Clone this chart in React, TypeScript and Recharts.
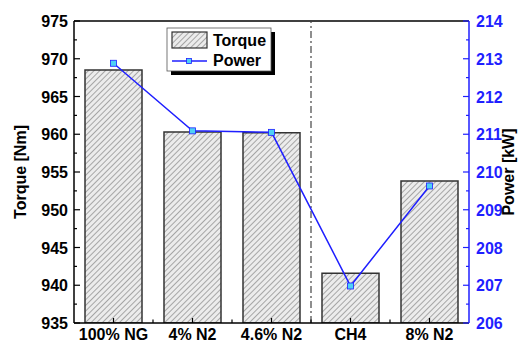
import React from "react";
import {
  Bar,
  ComposedChart,
  Line,
  ReferenceLine,
  XAxis,
  YAxis,
} from "recharts";

const categories = ["100% NG", "4% N2", "4.6% N2", "CH4", "8% N2"];
const torque = [968.5, 960.3, 960.2, 941.6, 953.8];
const power = [212.88, 211.09, 211.05, 206.98, 209.63];
const torqueTicks = [935, 937.5, 940, 942.5, 945, 947.5, 950, 952.5, 955, 957.5, 960, 962.5, 965, 967.5, 970, 972.5, 975];
const powerTicks = [206, 206.5, 207, 207.5, 208, 208.5, 209, 209.5, 210, 210.5, 211, 211.5, 212, 212.5, 213, 213.5, 214];

const data = categories.map((name, i) => ({ name, torque: torque[i], power: power[i] }));

const FONT = "'Liberation Sans', Arial, sans-serif";
const BLUE = "#1f1fff";
const MARGIN = 6;

function LeftTick(props: any) {
  const { x, y, payload } = props;
  const v = payload.value;
  const major = v % 5 === 0;
  const ax = x + MARGIN;
  return (
    <g>
      <line x1={ax} x2={ax + (major ? 6 : 3)} y1={y} y2={y} stroke="#000" strokeWidth={1.2} />
      {major && (
        <text x={x} y={y} dy={6} textAnchor="end" fontFamily={FONT} fontWeight="bold" fontSize={16} fill="#000">
          {v}
        </text>
      )}
    </g>
  );
}

function RightTick(props: any) {
  const { x, y, payload } = props;
  const v = payload.value;
  const major = v % 1 === 0;
  const ax = x - MARGIN;
  return (
    <g>
      <line x1={ax} x2={ax - (major ? 6 : 3)} y1={y} y2={y} stroke={BLUE} strokeWidth={1.2} />
      {major && (
        <text x={x + 1} y={y} dy={6} textAnchor="start" fontFamily={FONT} fontWeight="bold" fontSize={16} fill={BLUE}>
          {v}
        </text>
      )}
    </g>
  );
}

function BottomTick(props: any) {
  const { x, y, payload } = props;
  const ay = y - 4;
  return (
    <g>
      <line x1={x} x2={x} y1={ay} y2={ay - 5} stroke="#000" strokeWidth={1.2} />
      <text x={x} y={y} dy={13} textAnchor="middle" fontFamily={FONT} fontWeight="bold" fontSize={16} fill="#000">
        {payload.value}
      </text>
    </g>
  );
}

function LegendBox() {
  return (
    <svg width={523} height={345} style={{ position: "absolute", left: 0, top: 0, pointerEvents: "none" }}>
      <defs>
        <pattern id="hatchLegend" patternUnits="userSpaceOnUse" width={4} height={4} patternTransform="rotate(45)">
          <rect width={4} height={4} fill="#ececec" />
          <line x1={0} y1={0} x2={0} y2={4} stroke="#777" strokeWidth={1.2} />
        </pattern>
      </defs>
      <rect x={171} y={32} width={104} height={43} fill="#000" />
      <rect x={167} y={28} width={104} height={43} fill="#fff" stroke="#555" strokeWidth={0.8} />
      <rect x={172} y={32} width={35} height={16} fill="url(#hatchLegend)" stroke="#333" strokeWidth={1.2} />
      <text x={213} y={46} fontFamily={FONT} fontWeight="bold" fontSize={16} fill="#000">Torque</text>
      <line x1={172} x2={207} y1={61} y2={61} stroke={BLUE} strokeWidth={1.5} />
      <rect x={186.5} y={58.5} width={5} height={5} fill="#4fd0f5" stroke={BLUE} strokeWidth={0.8} />
      <text x={213} y={66} fontFamily={FONT} fontWeight="bold" fontSize={16} fill="#000">Power</text>
    </svg>
  );
}

export default function App() {
  return (
    <div style={{ position: "absolute", left: 0, top: 0, width: 523, height: 345, background: "#fff" }}>
      <ComposedChart
        width={523}
        height={345}
        data={data}
        margin={{ top: 21, right: 0, bottom: 0, left: 0 }}
        barCategoryGap={11}
      >
        <defs>
          <pattern id="hatch" patternUnits="userSpaceOnUse" width={4} height={4} patternTransform="rotate(45)">
            <rect width={4} height={4} fill="#ececec" />
            <line x1={0} y1={0} x2={0} y2={4} stroke="#777" strokeWidth={1.2} />
          </pattern>
        </defs>
        <XAxis
          dataKey="name"
          height={22}
          tickSize={0}
          tickMargin={4}
          tick={BottomTick}
          tickLine={false}
          axisLine={{ stroke: "#000", strokeWidth: 1.5 }}
          interval={0}
        />
        <YAxis
          yAxisId="left"
          orientation="left"
          width={74}
          domain={[935, 975]}
          ticks={torqueTicks}
          interval={0}
          tickSize={0}
          tickMargin={MARGIN}
          tickLine={false}
          tick={LeftTick}
          axisLine={{ stroke: "#000", strokeWidth: 1.5 }}
          allowDataOverflow
          label={{
            value: "Torque [Nm]",
            angle: -90,
            position: "center",
            dx: -17,
            style: { fontFamily: FONT, fontWeight: "bold", fontSize: 16, fill: "#000", textAnchor: "middle" },
          }}
        />
        <YAxis
          yAxisId="right"
          orientation="right"
          width={54}
          domain={[206, 214]}
          ticks={powerTicks}
          interval={0}
          tickSize={0}
          tickMargin={MARGIN}
          tickLine={false}
          tick={RightTick}
          axisLine={{ stroke: BLUE, strokeWidth: 1.5 }}
          allowDataOverflow
          label={{
            value: "Power [kW]",
            angle: -90,
            position: "center",
            dx: 12,
            style: { fontFamily: FONT, fontWeight: "bold", fontSize: 16, fill: "#000", textAnchor: "middle" },
          }}
        />
        <ReferenceLine yAxisId="left" y={975} stroke="#000" strokeWidth={1.5} />
        <ReferenceLine
          yAxisId="left"
          x="CH4"
          position="start"
          stroke="#444"
          strokeWidth={1.2}
          strokeDasharray="7 3 2 3"
        />
        {categories.slice(1).map((c) => (
          <ReferenceLine
            key={c}
            yAxisId="left"
            position="start"
            segment={[
              { x: c, y: 935 },
              { x: c, y: 935.45 },
            ]}
            stroke="#000"
            strokeWidth={1.2}
          />
        ))}
        <Bar
          yAxisId="left"
          dataKey="torque"
          fill="url(#hatch)"
          stroke="#333"
          strokeWidth={1.5}
          isAnimationActive={false}
        />
        <Line
          yAxisId="right"
          dataKey="power"
          stroke={BLUE}
          strokeWidth={1.5}
          isAnimationActive={false}
          dot={(p: any) => (
            <rect key={p.index} x={p.cx - 3} y={p.cy - 3} width={6} height={6} fill="#4fd0f5" stroke={BLUE} strokeWidth={0.8} />
          )}
          activeDot={false}
        />
      </ComposedChart>
      <LegendBox />
    </div>
  );
}
